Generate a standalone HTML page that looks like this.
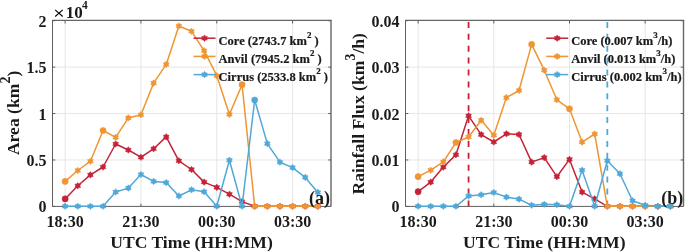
<!DOCTYPE html>
<html><head><meta charset="utf-8"><style>
html,body{margin:0;padding:0;background:#fff;width:685px;height:252px;overflow:hidden}
svg{display:block;will-change:transform}
</style></head><body>
<svg width="685" height="252" viewBox="0 0 685 252"><style>
text{font-family:"Liberation Serif",serif;font-weight:bold;fill:#1a1a1a}
.tk{font-size:16px}
.lb{font-size:17.6px}
.lg{font-size:12.5px;stroke:#1a1a1a;stroke-width:0.2px}
.sup{font-size:9px}
</style><line x1="65.14" y1="20.7" x2="65.14" y2="206.4" stroke="#e6e6e6" stroke-width="1"/><line x1="140.95" y1="20.7" x2="140.95" y2="206.4" stroke="#e6e6e6" stroke-width="1"/><line x1="216.77" y1="20.7" x2="216.77" y2="206.4" stroke="#e6e6e6" stroke-width="1"/><line x1="292.59" y1="20.7" x2="292.59" y2="206.4" stroke="#e6e6e6" stroke-width="1"/><line x1="52.5" y1="159.97" x2="330.5" y2="159.97" stroke="#e6e6e6" stroke-width="1"/><line x1="52.5" y1="113.55" x2="330.5" y2="113.55" stroke="#e6e6e6" stroke-width="1"/><line x1="52.5" y1="67.12" x2="330.5" y2="67.12" stroke="#e6e6e6" stroke-width="1"/>
<line x1="418.11" y1="20.7" x2="418.11" y2="206.4" stroke="#e6e6e6" stroke-width="1"/><line x1="493.80" y1="20.7" x2="493.80" y2="206.4" stroke="#e6e6e6" stroke-width="1"/><line x1="569.48" y1="20.7" x2="569.48" y2="206.4" stroke="#e6e6e6" stroke-width="1"/><line x1="645.16" y1="20.7" x2="645.16" y2="206.4" stroke="#e6e6e6" stroke-width="1"/><line x1="405.5" y1="159.97" x2="683.0" y2="159.97" stroke="#e6e6e6" stroke-width="1"/><line x1="405.5" y1="113.55" x2="683.0" y2="113.55" stroke="#e6e6e6" stroke-width="1"/><line x1="405.5" y1="67.12" x2="683.0" y2="67.12" stroke="#e6e6e6" stroke-width="1"/>
<line x1="468.57" y1="206.4" x2="468.57" y2="20.7" stroke="#C52238" stroke-width="1.8" stroke-dasharray="6 5.9"/><line x1="607.32" y1="206.4" x2="607.32" y2="20.7" stroke="#4FA8D8" stroke-width="1.8" stroke-dasharray="6 5.9"/><g stroke="#5e5e5e" stroke-width="1" fill="none"><line x1="52.5" y1="20.7" x2="52.5" y2="206.6"/><line x1="52.5" y1="206.4" x2="331.0" y2="206.4"/><line x1="331.0" y1="20.4" x2="331.0" y2="206.4" stroke="#666" stroke-width="1.4"/><line x1="52.0" y1="20.4" x2="331.7" y2="20.4" stroke="#666" stroke-width="1.4"/><line x1="65.14" y1="206.4" x2="65.14" y2="203.6"/><line x1="65.14" y1="20.7" x2="65.14" y2="23.5"/><line x1="140.95" y1="206.4" x2="140.95" y2="203.6"/><line x1="140.95" y1="20.7" x2="140.95" y2="23.5"/><line x1="216.77" y1="206.4" x2="216.77" y2="203.6"/><line x1="216.77" y1="20.7" x2="216.77" y2="23.5"/><line x1="292.59" y1="206.4" x2="292.59" y2="203.6"/><line x1="292.59" y1="20.7" x2="292.59" y2="23.5"/><line x1="52.5" y1="206.40" x2="55.3" y2="206.40"/><line x1="331.0" y1="206.40" x2="328.2" y2="206.40"/><line x1="52.5" y1="159.97" x2="55.3" y2="159.97"/><line x1="331.0" y1="159.97" x2="328.2" y2="159.97"/><line x1="52.5" y1="113.55" x2="55.3" y2="113.55"/><line x1="331.0" y1="113.55" x2="328.2" y2="113.55"/><line x1="52.5" y1="67.12" x2="55.3" y2="67.12"/><line x1="331.0" y1="67.12" x2="328.2" y2="67.12"/><line x1="52.5" y1="20.70" x2="55.3" y2="20.70"/><line x1="331.0" y1="20.70" x2="328.2" y2="20.70"/></g>
<g stroke="#5e5e5e" stroke-width="1" fill="none"><line x1="405.5" y1="20.7" x2="405.5" y2="206.6"/><line x1="405.5" y1="206.4" x2="683.5" y2="206.4"/><line x1="683.5" y1="20.4" x2="683.5" y2="206.4" stroke="#666" stroke-width="1.4"/><line x1="405.0" y1="20.4" x2="684.2" y2="20.4" stroke="#666" stroke-width="1.4"/><line x1="418.11" y1="206.4" x2="418.11" y2="203.6"/><line x1="418.11" y1="20.7" x2="418.11" y2="23.5"/><line x1="493.80" y1="206.4" x2="493.80" y2="203.6"/><line x1="493.80" y1="20.7" x2="493.80" y2="23.5"/><line x1="569.48" y1="206.4" x2="569.48" y2="203.6"/><line x1="569.48" y1="20.7" x2="569.48" y2="23.5"/><line x1="645.16" y1="206.4" x2="645.16" y2="203.6"/><line x1="645.16" y1="20.7" x2="645.16" y2="23.5"/><line x1="405.5" y1="206.40" x2="408.3" y2="206.40"/><line x1="683.5" y1="206.40" x2="680.7" y2="206.40"/><line x1="405.5" y1="159.97" x2="408.3" y2="159.97"/><line x1="683.5" y1="159.97" x2="680.7" y2="159.97"/><line x1="405.5" y1="113.55" x2="408.3" y2="113.55"/><line x1="683.5" y1="113.55" x2="680.7" y2="113.55"/><line x1="405.5" y1="67.12" x2="408.3" y2="67.12"/><line x1="683.5" y1="67.12" x2="680.7" y2="67.12"/><line x1="405.5" y1="20.70" x2="408.3" y2="20.70"/><line x1="683.5" y1="20.70" x2="680.7" y2="20.70"/></g>
<polyline points="65.14,198.90 77.77,185.80 90.41,174.90 103.05,167.00 115.68,144.00 128.32,150.00 140.95,157.20 153.59,148.80 166.23,136.90 178.86,160.80 191.50,169.50 204.14,182.10 216.77,187.40 229.41,194.20 242.05,201.60 254.68,206.30 267.32,206.30 279.95,206.30 292.59,206.30 305.23,206.30 317.86,206.30" fill="none" stroke="#C52238" stroke-width="1.5" stroke-linejoin="round"/>
<g fill="#C52238" stroke="#C52238" stroke-width="0.5" stroke-linejoin="miter"><circle cx="65.14" cy="198.90" r="3.1"/><polygon points="77.77,182.50 76.72,183.98 74.91,184.15 75.67,185.80 74.91,187.45 76.72,187.62 77.77,189.10 78.82,187.62 80.63,187.45 79.87,185.80 80.63,184.15 78.82,183.98"/><polygon points="90.41,171.60 89.36,173.08 87.55,173.25 88.31,174.90 87.55,176.55 89.36,176.72 90.41,178.20 91.46,176.72 93.27,176.55 92.51,174.90 93.27,173.25 91.46,173.08"/><polygon points="103.05,163.70 102.00,165.18 100.19,165.35 100.95,167.00 100.19,168.65 102.00,168.82 103.05,170.30 104.10,168.82 105.90,168.65 105.15,167.00 105.90,165.35 104.10,165.18"/><polygon points="115.68,140.70 114.63,142.18 112.82,142.35 113.58,144.00 112.82,145.65 114.63,145.82 115.68,147.30 116.73,145.82 118.54,145.65 117.78,144.00 118.54,142.35 116.73,142.18"/><polygon points="128.32,146.70 127.27,148.18 125.46,148.35 126.22,150.00 125.46,151.65 127.27,151.82 128.32,153.30 129.37,151.82 131.18,151.65 130.42,150.00 131.18,148.35 129.37,148.18"/><polygon points="140.95,153.90 139.90,155.38 138.10,155.55 138.85,157.20 138.10,158.85 139.90,159.02 140.95,160.50 142.00,159.02 143.81,158.85 143.05,157.20 143.81,155.55 142.00,155.38"/><polygon points="153.59,145.50 152.54,146.98 150.73,147.15 151.49,148.80 150.73,150.45 152.54,150.62 153.59,152.10 154.64,150.62 156.45,150.45 155.69,148.80 156.45,147.15 154.64,146.98"/><polygon points="166.23,133.60 165.18,135.08 163.37,135.25 164.13,136.90 163.37,138.55 165.18,138.72 166.23,140.20 167.28,138.72 169.09,138.55 168.33,136.90 169.09,135.25 167.28,135.08"/><polygon points="178.86,157.50 177.81,158.98 176.01,159.15 176.76,160.80 176.01,162.45 177.81,162.62 178.86,164.10 179.91,162.62 181.72,162.45 180.96,160.80 181.72,159.15 179.91,158.98"/><polygon points="191.50,166.20 190.45,167.68 188.64,167.85 189.40,169.50 188.64,171.15 190.45,171.32 191.50,172.80 192.55,171.32 194.36,171.15 193.60,169.50 194.36,167.85 192.55,167.68"/><polygon points="204.14,178.80 203.09,180.28 201.28,180.45 202.04,182.10 201.28,183.75 203.09,183.92 204.14,185.40 205.19,183.92 206.99,183.75 206.24,182.10 206.99,180.45 205.19,180.28"/><polygon points="216.77,184.10 215.72,185.58 213.91,185.75 214.67,187.40 213.91,189.05 215.72,189.22 216.77,190.70 217.82,189.22 219.63,189.05 218.87,187.40 219.63,185.75 217.82,185.58"/><polygon points="229.41,190.90 228.36,192.38 226.55,192.55 227.31,194.20 226.55,195.85 228.36,196.02 229.41,197.50 230.46,196.02 232.27,195.85 231.51,194.20 232.27,192.55 230.46,192.38"/><polygon points="242.05,198.30 241.00,199.78 239.19,199.95 239.95,201.60 239.19,203.25 241.00,203.42 242.05,204.90 243.10,203.42 244.90,203.25 244.15,201.60 244.90,199.95 243.10,199.78"/><polygon points="254.68,203.00 253.63,204.48 251.82,204.65 252.58,206.30 251.82,207.95 253.63,208.12 254.68,209.60 255.73,208.12 257.54,207.95 256.78,206.30 257.54,204.65 255.73,204.48"/><polygon points="267.32,203.00 266.27,204.48 264.46,204.65 265.22,206.30 264.46,207.95 266.27,208.12 267.32,209.60 268.37,208.12 270.18,207.95 269.42,206.30 270.18,204.65 268.37,204.48"/><polygon points="279.95,203.00 278.90,204.48 277.10,204.65 277.85,206.30 277.10,207.95 278.90,208.12 279.95,209.60 281.00,208.12 282.81,207.95 282.05,206.30 282.81,204.65 281.00,204.48"/><polygon points="292.59,203.00 291.54,204.48 289.73,204.65 290.49,206.30 289.73,207.95 291.54,208.12 292.59,209.60 293.64,208.12 295.45,207.95 294.69,206.30 295.45,204.65 293.64,204.48"/><polygon points="305.23,203.00 304.18,204.48 302.37,204.65 303.13,206.30 302.37,207.95 304.18,208.12 305.23,209.60 306.28,208.12 308.09,207.95 307.33,206.30 308.09,204.65 306.28,204.48"/><polygon points="317.86,203.00 316.81,204.48 315.01,204.65 315.76,206.30 315.01,207.95 316.81,208.12 317.86,209.60 318.91,208.12 320.72,207.95 319.96,206.30 320.72,204.65 318.91,204.48"/></g>
<polyline points="65.14,181.40 77.77,170.50 90.41,161.20 103.05,130.50 115.68,137.40 128.32,117.90 140.95,114.80 153.59,83.10 166.23,64.40 178.86,26.00 191.50,31.30 204.14,50.70 216.77,75.70 229.41,114.40 242.05,84.70 254.68,206.30 267.32,206.30 279.95,206.30 292.59,206.30 305.23,206.30 317.86,206.30" fill="none" stroke="#EE9633" stroke-width="1.5" stroke-linejoin="round"/>
<g fill="#EE9633" stroke="#EE9633" stroke-width="0.5" stroke-linejoin="miter"><circle cx="65.14" cy="181.40" r="3.1"/><polygon points="77.77,167.20 76.72,168.68 74.91,168.85 75.67,170.50 74.91,172.15 76.72,172.32 77.77,173.80 78.82,172.32 80.63,172.15 79.87,170.50 80.63,168.85 78.82,168.68"/><polygon points="90.41,157.90 89.36,159.38 87.55,159.55 88.31,161.20 87.55,162.85 89.36,163.02 90.41,164.50 91.46,163.02 93.27,162.85 92.51,161.20 93.27,159.55 91.46,159.38"/><circle cx="103.05" cy="130.50" r="3.1"/><polygon points="115.68,134.10 114.63,135.58 112.82,135.75 113.58,137.40 112.82,139.05 114.63,139.22 115.68,140.70 116.73,139.22 118.54,139.05 117.78,137.40 118.54,135.75 116.73,135.58"/><polygon points="128.32,114.60 127.27,116.08 125.46,116.25 126.22,117.90 125.46,119.55 127.27,119.72 128.32,121.20 129.37,119.72 131.18,119.55 130.42,117.90 131.18,116.25 129.37,116.08"/><polygon points="140.95,111.50 139.90,112.98 138.10,113.15 138.85,114.80 138.10,116.45 139.90,116.62 140.95,118.10 142.00,116.62 143.81,116.45 143.05,114.80 143.81,113.15 142.00,112.98"/><polygon points="153.59,79.80 152.54,81.28 150.73,81.45 151.49,83.10 150.73,84.75 152.54,84.92 153.59,86.40 154.64,84.92 156.45,84.75 155.69,83.10 156.45,81.45 154.64,81.28"/><polygon points="166.23,61.10 165.18,62.58 163.37,62.75 164.13,64.40 163.37,66.05 165.18,66.22 166.23,67.70 167.28,66.22 169.09,66.05 168.33,64.40 169.09,62.75 167.28,62.58"/><polygon points="178.86,22.70 177.81,24.18 176.01,24.35 176.76,26.00 176.01,27.65 177.81,27.82 178.86,29.30 179.91,27.82 181.72,27.65 180.96,26.00 181.72,24.35 179.91,24.18"/><polygon points="191.50,28.00 190.45,29.48 188.64,29.65 189.40,31.30 188.64,32.95 190.45,33.12 191.50,34.60 192.55,33.12 194.36,32.95 193.60,31.30 194.36,29.65 192.55,29.48"/><polygon points="204.14,47.40 203.09,48.88 201.28,49.05 202.04,50.70 201.28,52.35 203.09,52.52 204.14,54.00 205.19,52.52 206.99,52.35 206.24,50.70 206.99,49.05 205.19,48.88"/><polygon points="216.77,72.40 215.72,73.88 213.91,74.05 214.67,75.70 213.91,77.35 215.72,77.52 216.77,79.00 217.82,77.52 219.63,77.35 218.87,75.70 219.63,74.05 217.82,73.88"/><polygon points="229.41,111.10 228.36,112.58 226.55,112.75 227.31,114.40 226.55,116.05 228.36,116.22 229.41,117.70 230.46,116.22 232.27,116.05 231.51,114.40 232.27,112.75 230.46,112.58"/><circle cx="242.05" cy="84.70" r="3.1"/><polygon points="254.68,203.00 253.63,204.48 251.82,204.65 252.58,206.30 251.82,207.95 253.63,208.12 254.68,209.60 255.73,208.12 257.54,207.95 256.78,206.30 257.54,204.65 255.73,204.48"/><polygon points="267.32,203.00 266.27,204.48 264.46,204.65 265.22,206.30 264.46,207.95 266.27,208.12 267.32,209.60 268.37,208.12 270.18,207.95 269.42,206.30 270.18,204.65 268.37,204.48"/><polygon points="279.95,203.00 278.90,204.48 277.10,204.65 277.85,206.30 277.10,207.95 278.90,208.12 279.95,209.60 281.00,208.12 282.81,207.95 282.05,206.30 282.81,204.65 281.00,204.48"/><polygon points="292.59,203.00 291.54,204.48 289.73,204.65 290.49,206.30 289.73,207.95 291.54,208.12 292.59,209.60 293.64,208.12 295.45,207.95 294.69,206.30 295.45,204.65 293.64,204.48"/><polygon points="305.23,203.00 304.18,204.48 302.37,204.65 303.13,206.30 302.37,207.95 304.18,208.12 305.23,209.60 306.28,208.12 308.09,207.95 307.33,206.30 308.09,204.65 306.28,204.48"/><polygon points="317.86,203.00 316.81,204.48 315.01,204.65 315.76,206.30 315.01,207.95 316.81,208.12 317.86,209.60 318.91,208.12 320.72,207.95 319.96,206.30 320.72,204.65 318.91,204.48"/></g>
<polyline points="65.14,206.30 77.77,206.30 90.41,206.30 103.05,206.30 115.68,192.00 128.32,188.10 140.95,174.50 153.59,181.40 166.23,182.60 178.86,196.00 191.50,189.80 204.14,191.70 216.77,206.30 229.41,160.20 242.05,206.30 254.68,100.00 267.32,143.60 279.95,162.20 292.59,167.60 305.23,177.40 317.86,192.40" fill="none" stroke="#4FA8D8" stroke-width="1.5" stroke-linejoin="round"/>
<g fill="#4FA8D8" stroke="#4FA8D8" stroke-width="0.5" stroke-linejoin="miter"><polygon points="65.14,203.00 64.09,204.48 62.28,204.65 63.04,206.30 62.28,207.95 64.09,208.12 65.14,209.60 66.19,208.12 67.99,207.95 67.24,206.30 67.99,204.65 66.19,204.48"/><polygon points="77.77,203.00 76.72,204.48 74.91,204.65 75.67,206.30 74.91,207.95 76.72,208.12 77.77,209.60 78.82,208.12 80.63,207.95 79.87,206.30 80.63,204.65 78.82,204.48"/><polygon points="90.41,203.00 89.36,204.48 87.55,204.65 88.31,206.30 87.55,207.95 89.36,208.12 90.41,209.60 91.46,208.12 93.27,207.95 92.51,206.30 93.27,204.65 91.46,204.48"/><polygon points="103.05,203.00 102.00,204.48 100.19,204.65 100.95,206.30 100.19,207.95 102.00,208.12 103.05,209.60 104.10,208.12 105.90,207.95 105.15,206.30 105.90,204.65 104.10,204.48"/><polygon points="115.68,188.70 114.63,190.18 112.82,190.35 113.58,192.00 112.82,193.65 114.63,193.82 115.68,195.30 116.73,193.82 118.54,193.65 117.78,192.00 118.54,190.35 116.73,190.18"/><polygon points="128.32,184.80 127.27,186.28 125.46,186.45 126.22,188.10 125.46,189.75 127.27,189.92 128.32,191.40 129.37,189.92 131.18,189.75 130.42,188.10 131.18,186.45 129.37,186.28"/><polygon points="140.95,171.20 139.90,172.68 138.10,172.85 138.85,174.50 138.10,176.15 139.90,176.32 140.95,177.80 142.00,176.32 143.81,176.15 143.05,174.50 143.81,172.85 142.00,172.68"/><polygon points="153.59,178.10 152.54,179.58 150.73,179.75 151.49,181.40 150.73,183.05 152.54,183.22 153.59,184.70 154.64,183.22 156.45,183.05 155.69,181.40 156.45,179.75 154.64,179.58"/><polygon points="166.23,179.30 165.18,180.78 163.37,180.95 164.13,182.60 163.37,184.25 165.18,184.42 166.23,185.90 167.28,184.42 169.09,184.25 168.33,182.60 169.09,180.95 167.28,180.78"/><polygon points="178.86,192.70 177.81,194.18 176.01,194.35 176.76,196.00 176.01,197.65 177.81,197.82 178.86,199.30 179.91,197.82 181.72,197.65 180.96,196.00 181.72,194.35 179.91,194.18"/><polygon points="191.50,186.50 190.45,187.98 188.64,188.15 189.40,189.80 188.64,191.45 190.45,191.62 191.50,193.10 192.55,191.62 194.36,191.45 193.60,189.80 194.36,188.15 192.55,187.98"/><polygon points="204.14,188.40 203.09,189.88 201.28,190.05 202.04,191.70 201.28,193.35 203.09,193.52 204.14,195.00 205.19,193.52 206.99,193.35 206.24,191.70 206.99,190.05 205.19,189.88"/><polygon points="216.77,203.00 215.72,204.48 213.91,204.65 214.67,206.30 213.91,207.95 215.72,208.12 216.77,209.60 217.82,208.12 219.63,207.95 218.87,206.30 219.63,204.65 217.82,204.48"/><polygon points="229.41,156.90 228.36,158.38 226.55,158.55 227.31,160.20 226.55,161.85 228.36,162.02 229.41,163.50 230.46,162.02 232.27,161.85 231.51,160.20 232.27,158.55 230.46,158.38"/><polygon points="242.05,203.00 241.00,204.48 239.19,204.65 239.95,206.30 239.19,207.95 241.00,208.12 242.05,209.60 243.10,208.12 244.90,207.95 244.15,206.30 244.90,204.65 243.10,204.48"/><circle cx="254.68" cy="100.00" r="3.1"/><polygon points="267.32,140.30 266.27,141.78 264.46,141.95 265.22,143.60 264.46,145.25 266.27,145.42 267.32,146.90 268.37,145.42 270.18,145.25 269.42,143.60 270.18,141.95 268.37,141.78"/><polygon points="279.95,158.90 278.90,160.38 277.10,160.55 277.85,162.20 277.10,163.85 278.90,164.02 279.95,165.50 281.00,164.02 282.81,163.85 282.05,162.20 282.81,160.55 281.00,160.38"/><polygon points="292.59,164.30 291.54,165.78 289.73,165.95 290.49,167.60 289.73,169.25 291.54,169.42 292.59,170.90 293.64,169.42 295.45,169.25 294.69,167.60 295.45,165.95 293.64,165.78"/><polygon points="305.23,174.10 304.18,175.58 302.37,175.75 303.13,177.40 302.37,179.05 304.18,179.22 305.23,180.70 306.28,179.22 308.09,179.05 307.33,177.40 308.09,175.75 306.28,175.58"/><polygon points="317.86,189.10 316.81,190.58 315.01,190.75 315.76,192.40 315.01,194.05 316.81,194.22 317.86,195.70 318.91,194.22 320.72,194.05 319.96,192.40 320.72,190.75 318.91,190.58"/></g>
<polyline points="418.11,191.70 430.73,182.10 443.34,167.10 455.95,154.80 468.57,115.80 481.18,134.60 493.80,142.00 506.41,133.80 519.02,134.50 531.64,162.10 544.25,157.60 556.86,176.70 569.48,159.40 582.09,192.10 594.70,198.80 607.32,206.30 619.93,206.30 632.55,206.30 645.16,206.30 657.77,206.30 670.39,206.30" fill="none" stroke="#C52238" stroke-width="1.5" stroke-linejoin="round"/>
<g fill="#C52238" stroke="#C52238" stroke-width="0.5" stroke-linejoin="miter"><circle cx="418.11" cy="191.70" r="3.1"/><polygon points="430.73,178.80 429.68,180.28 427.87,180.45 428.63,182.10 427.87,183.75 429.68,183.92 430.73,185.40 431.78,183.92 433.59,183.75 432.83,182.10 433.59,180.45 431.78,180.28"/><polygon points="443.34,163.80 442.29,165.28 440.48,165.45 441.24,167.10 440.48,168.75 442.29,168.92 443.34,170.40 444.39,168.92 446.20,168.75 445.44,167.10 446.20,165.45 444.39,165.28"/><polygon points="455.95,151.50 454.90,152.98 453.10,153.15 453.85,154.80 453.10,156.45 454.90,156.62 455.95,158.10 457.00,156.62 458.81,156.45 458.05,154.80 458.81,153.15 457.00,152.98"/><polygon points="468.57,112.50 467.52,113.98 465.71,114.15 466.47,115.80 465.71,117.45 467.52,117.62 468.57,119.10 469.62,117.62 471.43,117.45 470.67,115.80 471.43,114.15 469.62,113.98"/><polygon points="481.18,131.30 480.13,132.78 478.32,132.95 479.08,134.60 478.32,136.25 480.13,136.42 481.18,137.90 482.23,136.42 484.04,136.25 483.28,134.60 484.04,132.95 482.23,132.78"/><polygon points="493.80,138.70 492.75,140.18 490.94,140.35 491.70,142.00 490.94,143.65 492.75,143.82 493.80,145.30 494.85,143.82 496.65,143.65 495.90,142.00 496.65,140.35 494.85,140.18"/><polygon points="506.41,130.50 505.36,131.98 503.55,132.15 504.31,133.80 503.55,135.45 505.36,135.62 506.41,137.10 507.46,135.62 509.27,135.45 508.51,133.80 509.27,132.15 507.46,131.98"/><polygon points="519.02,131.20 517.97,132.68 516.16,132.85 516.92,134.50 516.16,136.15 517.97,136.32 519.02,137.80 520.07,136.32 521.88,136.15 521.12,134.50 521.88,132.85 520.07,132.68"/><polygon points="531.64,158.80 530.59,160.28 528.78,160.45 529.54,162.10 528.78,163.75 530.59,163.92 531.64,165.40 532.69,163.92 534.49,163.75 533.74,162.10 534.49,160.45 532.69,160.28"/><polygon points="544.25,154.30 543.20,155.78 541.39,155.95 542.15,157.60 541.39,159.25 543.20,159.42 544.25,160.90 545.30,159.42 547.11,159.25 546.35,157.60 547.11,155.95 545.30,155.78"/><polygon points="556.86,173.40 555.81,174.88 554.01,175.05 554.76,176.70 554.01,178.35 555.81,178.52 556.86,180.00 557.91,178.52 559.72,178.35 558.96,176.70 559.72,175.05 557.91,174.88"/><polygon points="569.48,156.10 568.43,157.58 566.62,157.75 567.38,159.40 566.62,161.05 568.43,161.22 569.48,162.70 570.53,161.22 572.34,161.05 571.58,159.40 572.34,157.75 570.53,157.58"/><polygon points="582.09,188.80 581.04,190.28 579.23,190.45 579.99,192.10 579.23,193.75 581.04,193.92 582.09,195.40 583.14,193.92 584.95,193.75 584.19,192.10 584.95,190.45 583.14,190.28"/><polygon points="594.70,195.50 593.65,196.98 591.85,197.15 592.60,198.80 591.85,200.45 593.65,200.62 594.70,202.10 595.75,200.62 597.56,200.45 596.80,198.80 597.56,197.15 595.75,196.98"/><polygon points="607.32,203.00 606.27,204.48 604.46,204.65 605.22,206.30 604.46,207.95 606.27,208.12 607.32,209.60 608.37,208.12 610.18,207.95 609.42,206.30 610.18,204.65 608.37,204.48"/><polygon points="619.93,203.00 618.88,204.48 617.07,204.65 617.83,206.30 617.07,207.95 618.88,208.12 619.93,209.60 620.98,208.12 622.79,207.95 622.03,206.30 622.79,204.65 620.98,204.48"/><polygon points="632.55,203.00 631.50,204.48 629.69,204.65 630.45,206.30 629.69,207.95 631.50,208.12 632.55,209.60 633.60,208.12 635.40,207.95 634.65,206.30 635.40,204.65 633.60,204.48"/><polygon points="645.16,203.00 644.11,204.48 642.30,204.65 643.06,206.30 642.30,207.95 644.11,208.12 645.16,209.60 646.21,208.12 648.02,207.95 647.26,206.30 648.02,204.65 646.21,204.48"/><polygon points="657.77,203.00 656.72,204.48 654.91,204.65 655.67,206.30 654.91,207.95 656.72,208.12 657.77,209.60 658.82,208.12 660.63,207.95 659.87,206.30 660.63,204.65 658.82,204.48"/><polygon points="670.39,203.00 669.34,204.48 667.53,204.65 668.29,206.30 667.53,207.95 669.34,208.12 670.39,209.60 671.44,208.12 673.24,207.95 672.49,206.30 673.24,204.65 671.44,204.48"/></g>
<polyline points="418.11,176.70 430.73,170.20 443.34,161.90 455.95,142.50 468.57,137.00 481.18,120.20 493.80,135.30 506.41,97.60 519.02,90.50 531.64,44.40 544.25,70.20 556.86,99.80 569.48,108.80 582.09,142.10 594.70,134.00 607.32,206.30 619.93,206.30 632.55,206.30 645.16,206.30 657.77,206.30 670.39,206.30" fill="none" stroke="#EE9633" stroke-width="1.5" stroke-linejoin="round"/>
<g fill="#EE9633" stroke="#EE9633" stroke-width="0.5" stroke-linejoin="miter"><circle cx="418.11" cy="176.70" r="3.1"/><polygon points="430.73,166.90 429.68,168.38 427.87,168.55 428.63,170.20 427.87,171.85 429.68,172.02 430.73,173.50 431.78,172.02 433.59,171.85 432.83,170.20 433.59,168.55 431.78,168.38"/><polygon points="443.34,158.60 442.29,160.08 440.48,160.25 441.24,161.90 440.48,163.55 442.29,163.72 443.34,165.20 444.39,163.72 446.20,163.55 445.44,161.90 446.20,160.25 444.39,160.08"/><circle cx="455.95" cy="142.50" r="3.1"/><polygon points="468.57,133.70 467.52,135.18 465.71,135.35 466.47,137.00 465.71,138.65 467.52,138.82 468.57,140.30 469.62,138.82 471.43,138.65 470.67,137.00 471.43,135.35 469.62,135.18"/><polygon points="481.18,116.90 480.13,118.38 478.32,118.55 479.08,120.20 478.32,121.85 480.13,122.02 481.18,123.50 482.23,122.02 484.04,121.85 483.28,120.20 484.04,118.55 482.23,118.38"/><polygon points="493.80,132.00 492.75,133.48 490.94,133.65 491.70,135.30 490.94,136.95 492.75,137.12 493.80,138.60 494.85,137.12 496.65,136.95 495.90,135.30 496.65,133.65 494.85,133.48"/><polygon points="506.41,94.30 505.36,95.78 503.55,95.95 504.31,97.60 503.55,99.25 505.36,99.42 506.41,100.90 507.46,99.42 509.27,99.25 508.51,97.60 509.27,95.95 507.46,95.78"/><polygon points="519.02,87.20 517.97,88.68 516.16,88.85 516.92,90.50 516.16,92.15 517.97,92.32 519.02,93.80 520.07,92.32 521.88,92.15 521.12,90.50 521.88,88.85 520.07,88.68"/><circle cx="531.64" cy="44.40" r="3.1"/><polygon points="544.25,66.90 543.20,68.38 541.39,68.55 542.15,70.20 541.39,71.85 543.20,72.02 544.25,73.50 545.30,72.02 547.11,71.85 546.35,70.20 547.11,68.55 545.30,68.38"/><polygon points="556.86,96.50 555.81,97.98 554.01,98.15 554.76,99.80 554.01,101.45 555.81,101.62 556.86,103.10 557.91,101.62 559.72,101.45 558.96,99.80 559.72,98.15 557.91,97.98"/><circle cx="569.48" cy="108.80" r="3.1"/><polygon points="582.09,138.80 581.04,140.28 579.23,140.45 579.99,142.10 579.23,143.75 581.04,143.92 582.09,145.40 583.14,143.92 584.95,143.75 584.19,142.10 584.95,140.45 583.14,140.28"/><polygon points="594.70,130.70 593.65,132.18 591.85,132.35 592.60,134.00 591.85,135.65 593.65,135.82 594.70,137.30 595.75,135.82 597.56,135.65 596.80,134.00 597.56,132.35 595.75,132.18"/><polygon points="607.32,203.00 606.27,204.48 604.46,204.65 605.22,206.30 604.46,207.95 606.27,208.12 607.32,209.60 608.37,208.12 610.18,207.95 609.42,206.30 610.18,204.65 608.37,204.48"/><polygon points="619.93,203.00 618.88,204.48 617.07,204.65 617.83,206.30 617.07,207.95 618.88,208.12 619.93,209.60 620.98,208.12 622.79,207.95 622.03,206.30 622.79,204.65 620.98,204.48"/><polygon points="632.55,203.00 631.50,204.48 629.69,204.65 630.45,206.30 629.69,207.95 631.50,208.12 632.55,209.60 633.60,208.12 635.40,207.95 634.65,206.30 635.40,204.65 633.60,204.48"/><polygon points="645.16,203.00 644.11,204.48 642.30,204.65 643.06,206.30 642.30,207.95 644.11,208.12 645.16,209.60 646.21,208.12 648.02,207.95 647.26,206.30 648.02,204.65 646.21,204.48"/><polygon points="657.77,203.00 656.72,204.48 654.91,204.65 655.67,206.30 654.91,207.95 656.72,208.12 657.77,209.60 658.82,208.12 660.63,207.95 659.87,206.30 660.63,204.65 658.82,204.48"/><polygon points="670.39,203.00 669.34,204.48 667.53,204.65 668.29,206.30 667.53,207.95 669.34,208.12 670.39,209.60 671.44,208.12 673.24,207.95 672.49,206.30 673.24,204.65 671.44,204.48"/></g>
<polyline points="418.11,206.30 430.73,206.30 443.34,206.30 455.95,206.30 468.57,196.00 481.18,194.80 493.80,192.50 506.41,197.10 519.02,199.10 531.64,205.20 544.25,204.30 556.86,204.70 569.48,206.30 582.09,170.20 594.70,206.30 607.32,160.70 619.93,173.80 632.55,200.70 645.16,205.20 657.77,206.30 670.39,206.30" fill="none" stroke="#4FA8D8" stroke-width="1.5" stroke-linejoin="round"/>
<g fill="#4FA8D8" stroke="#4FA8D8" stroke-width="0.5" stroke-linejoin="miter"><polygon points="418.11,203.00 417.06,204.48 415.26,204.65 416.01,206.30 415.26,207.95 417.06,208.12 418.11,209.60 419.16,208.12 420.97,207.95 420.21,206.30 420.97,204.65 419.16,204.48"/><polygon points="430.73,203.00 429.68,204.48 427.87,204.65 428.63,206.30 427.87,207.95 429.68,208.12 430.73,209.60 431.78,208.12 433.59,207.95 432.83,206.30 433.59,204.65 431.78,204.48"/><polygon points="443.34,203.00 442.29,204.48 440.48,204.65 441.24,206.30 440.48,207.95 442.29,208.12 443.34,209.60 444.39,208.12 446.20,207.95 445.44,206.30 446.20,204.65 444.39,204.48"/><polygon points="455.95,203.00 454.90,204.48 453.10,204.65 453.85,206.30 453.10,207.95 454.90,208.12 455.95,209.60 457.00,208.12 458.81,207.95 458.05,206.30 458.81,204.65 457.00,204.48"/><polygon points="468.57,192.70 467.52,194.18 465.71,194.35 466.47,196.00 465.71,197.65 467.52,197.82 468.57,199.30 469.62,197.82 471.43,197.65 470.67,196.00 471.43,194.35 469.62,194.18"/><polygon points="481.18,191.50 480.13,192.98 478.32,193.15 479.08,194.80 478.32,196.45 480.13,196.62 481.18,198.10 482.23,196.62 484.04,196.45 483.28,194.80 484.04,193.15 482.23,192.98"/><polygon points="493.80,189.20 492.75,190.68 490.94,190.85 491.70,192.50 490.94,194.15 492.75,194.32 493.80,195.80 494.85,194.32 496.65,194.15 495.90,192.50 496.65,190.85 494.85,190.68"/><polygon points="506.41,193.80 505.36,195.28 503.55,195.45 504.31,197.10 503.55,198.75 505.36,198.92 506.41,200.40 507.46,198.92 509.27,198.75 508.51,197.10 509.27,195.45 507.46,195.28"/><polygon points="519.02,195.80 517.97,197.28 516.16,197.45 516.92,199.10 516.16,200.75 517.97,200.92 519.02,202.40 520.07,200.92 521.88,200.75 521.12,199.10 521.88,197.45 520.07,197.28"/><polygon points="531.64,201.90 530.59,203.38 528.78,203.55 529.54,205.20 528.78,206.85 530.59,207.02 531.64,208.50 532.69,207.02 534.49,206.85 533.74,205.20 534.49,203.55 532.69,203.38"/><polygon points="544.25,201.00 543.20,202.48 541.39,202.65 542.15,204.30 541.39,205.95 543.20,206.12 544.25,207.60 545.30,206.12 547.11,205.95 546.35,204.30 547.11,202.65 545.30,202.48"/><polygon points="556.86,201.40 555.81,202.88 554.01,203.05 554.76,204.70 554.01,206.35 555.81,206.52 556.86,208.00 557.91,206.52 559.72,206.35 558.96,204.70 559.72,203.05 557.91,202.88"/><polygon points="569.48,203.00 568.43,204.48 566.62,204.65 567.38,206.30 566.62,207.95 568.43,208.12 569.48,209.60 570.53,208.12 572.34,207.95 571.58,206.30 572.34,204.65 570.53,204.48"/><polygon points="582.09,166.90 581.04,168.38 579.23,168.55 579.99,170.20 579.23,171.85 581.04,172.02 582.09,173.50 583.14,172.02 584.95,171.85 584.19,170.20 584.95,168.55 583.14,168.38"/><polygon points="594.70,203.00 593.65,204.48 591.85,204.65 592.60,206.30 591.85,207.95 593.65,208.12 594.70,209.60 595.75,208.12 597.56,207.95 596.80,206.30 597.56,204.65 595.75,204.48"/><polygon points="607.32,157.40 606.27,158.88 604.46,159.05 605.22,160.70 604.46,162.35 606.27,162.52 607.32,164.00 608.37,162.52 610.18,162.35 609.42,160.70 610.18,159.05 608.37,158.88"/><polygon points="619.93,170.50 618.88,171.98 617.07,172.15 617.83,173.80 617.07,175.45 618.88,175.62 619.93,177.10 620.98,175.62 622.79,175.45 622.03,173.80 622.79,172.15 620.98,171.98"/><polygon points="632.55,197.40 631.50,198.88 629.69,199.05 630.45,200.70 629.69,202.35 631.50,202.52 632.55,204.00 633.60,202.52 635.40,202.35 634.65,200.70 635.40,199.05 633.60,198.88"/><polygon points="645.16,201.90 644.11,203.38 642.30,203.55 643.06,205.20 642.30,206.85 644.11,207.02 645.16,208.50 646.21,207.02 648.02,206.85 647.26,205.20 648.02,203.55 646.21,203.38"/><polygon points="657.77,203.00 656.72,204.48 654.91,204.65 655.67,206.30 654.91,207.95 656.72,208.12 657.77,209.60 658.82,208.12 660.63,207.95 659.87,206.30 660.63,204.65 658.82,204.48"/><polygon points="670.39,203.00 669.34,204.48 667.53,204.65 668.29,206.30 667.53,207.95 669.34,208.12 670.39,209.60 671.44,208.12 673.24,207.95 672.49,206.30 673.24,204.65 671.44,204.48"/></g>
<text x="65.14" y="226.9" text-anchor="middle" class="tk">18:30</text><text x="140.95" y="226.9" text-anchor="middle" class="tk">21:30</text><text x="216.77" y="226.9" text-anchor="middle" class="tk">00:30</text><text x="292.59" y="226.9" text-anchor="middle" class="tk">03:30</text>
<text x="418.11" y="226.9" text-anchor="middle" class="tk">18:30</text><text x="493.80" y="226.9" text-anchor="middle" class="tk">21:30</text><text x="569.48" y="226.9" text-anchor="middle" class="tk">00:30</text><text x="645.16" y="226.9" text-anchor="middle" class="tk">03:30</text>
<text x="46.60" y="212.40" text-anchor="end" class="tk">0</text><text x="46.60" y="165.97" text-anchor="end" class="tk">0.5</text><text x="46.60" y="119.55" text-anchor="end" class="tk">1</text><text x="46.60" y="73.12" text-anchor="end" class="tk">1.5</text><text x="46.60" y="26.70" text-anchor="end" class="tk">2</text>
<text x="399.60" y="212.40" text-anchor="end" class="tk">0</text><text x="399.60" y="165.97" text-anchor="end" class="tk">0.01</text><text x="399.60" y="119.55" text-anchor="end" class="tk">0.02</text><text x="399.60" y="73.12" text-anchor="end" class="tk">0.03</text><text x="399.60" y="26.70" text-anchor="end" class="tk">0.04</text>
<path d="M55.2,9.8 L62.7,16.5 M55.2,16.5 L62.7,9.8" stroke="#000" stroke-width="1.1" fill="none"/><text x="65.7" y="18.0" style="font-size:17px">10</text><text x="82.1" y="9.3" style="font-size:11.5px">4</text><line x1="193.5" y1="38.2" x2="215.5" y2="38.2" stroke="#C52238" stroke-width="1.5"/><g fill="#C52238" stroke="#C52238" stroke-width="0.5" stroke-linejoin="miter"><polygon points="204.50,34.90 203.45,36.38 201.64,36.55 202.40,38.20 201.64,39.85 203.45,40.02 204.50,41.50 205.55,40.02 207.36,39.85 206.60,38.20 207.36,36.55 205.55,36.38"/></g><text x="218.6" y="44.800000000000004" class="lg">Core (2743.7 km<tspan class="sup" dy="-6.8">2</tspan><tspan dy="6.8"> )</tspan></text><line x1="193.5" y1="56.400000000000006" x2="215.5" y2="56.400000000000006" stroke="#EE9633" stroke-width="1.5"/><g fill="#EE9633" stroke="#EE9633" stroke-width="0.5" stroke-linejoin="miter"><polygon points="204.50,53.10 203.45,54.58 201.64,54.75 202.40,56.40 201.64,58.05 203.45,58.22 204.50,59.70 205.55,58.22 207.36,58.05 206.60,56.40 207.36,54.75 205.55,54.58"/></g><text x="218.6" y="63.00000000000001" class="lg">Anvil (7945.2 km<tspan class="sup" dy="-6.8">2</tspan><tspan dy="6.8"> )</tspan></text><line x1="193.5" y1="74.6" x2="215.5" y2="74.6" stroke="#4FA8D8" stroke-width="1.5"/><g fill="#4FA8D8" stroke="#4FA8D8" stroke-width="0.5" stroke-linejoin="miter"><polygon points="204.50,71.30 203.45,72.78 201.64,72.95 202.40,74.60 201.64,76.25 203.45,76.42 204.50,77.90 205.55,76.42 207.36,76.25 206.60,74.60 207.36,72.95 205.55,72.78"/></g><text x="218.6" y="81.19999999999999" class="lg">Cirrus (2533.8 km<tspan class="sup" dy="-6.8">2</tspan><tspan dy="6.8"> )</tspan></text>
<line x1="546.2" y1="38.2" x2="568.2" y2="38.2" stroke="#C52238" stroke-width="1.5"/><g fill="#C52238" stroke="#C52238" stroke-width="0.5" stroke-linejoin="miter"><polygon points="557.20,34.90 556.15,36.38 554.34,36.55 555.10,38.20 554.34,39.85 556.15,40.02 557.20,41.50 558.25,40.02 560.06,39.85 559.30,38.20 560.06,36.55 558.25,36.38"/></g><text x="571.2" y="44.800000000000004" class="lg">Core (0.007 km<tspan class="sup" dy="-6.8">3</tspan><tspan dy="6.8">/h)</tspan></text><line x1="546.2" y1="56.400000000000006" x2="568.2" y2="56.400000000000006" stroke="#EE9633" stroke-width="1.5"/><g fill="#EE9633" stroke="#EE9633" stroke-width="0.5" stroke-linejoin="miter"><polygon points="557.20,53.10 556.15,54.58 554.34,54.75 555.10,56.40 554.34,58.05 556.15,58.22 557.20,59.70 558.25,58.22 560.06,58.05 559.30,56.40 560.06,54.75 558.25,54.58"/></g><text x="571.2" y="63.00000000000001" class="lg">Anvil (0.013 km<tspan class="sup" dy="-6.8">3</tspan><tspan dy="6.8">/h)</tspan></text><line x1="546.2" y1="74.6" x2="568.2" y2="74.6" stroke="#4FA8D8" stroke-width="1.5"/><g fill="#4FA8D8" stroke="#4FA8D8" stroke-width="0.5" stroke-linejoin="miter"><polygon points="557.20,71.30 556.15,72.78 554.34,72.95 555.10,74.60 554.34,76.25 556.15,76.42 557.20,77.90 558.25,76.42 560.06,76.25 559.30,74.60 560.06,72.95 558.25,72.78"/></g><text x="571.2" y="81.19999999999999" class="lg">Cirrus (0.002 km<tspan class="sup" dy="-6.8">3</tspan><tspan dy="6.8">/h)</tspan></text>
<text x="330" y="203.5" text-anchor="end" style="font-size:18px">(a)</text><text x="683.3" y="203.5" text-anchor="end" style="font-size:18px">(b)</text><text x="191.50" y="247.9" text-anchor="middle" class="lb">UTC Time (HH:MM)</text><text x="544.25" y="247.9" text-anchor="middle" class="lb">UTC Time (HH:MM)</text><text transform="translate(19.4,112.9) rotate(-90)" text-anchor="middle" class="lb">Area (km<tspan style="font-size:14px" dy="-9.2">2</tspan><tspan dy="9.2">)</tspan></text><text transform="translate(364.2,113.8) rotate(-90)" text-anchor="middle" class="lb">Rainfall Flux (km<tspan style="font-size:14px" dy="-9.2">3</tspan><tspan dy="9.2">/h)</tspan></text></svg>
</body></html>
